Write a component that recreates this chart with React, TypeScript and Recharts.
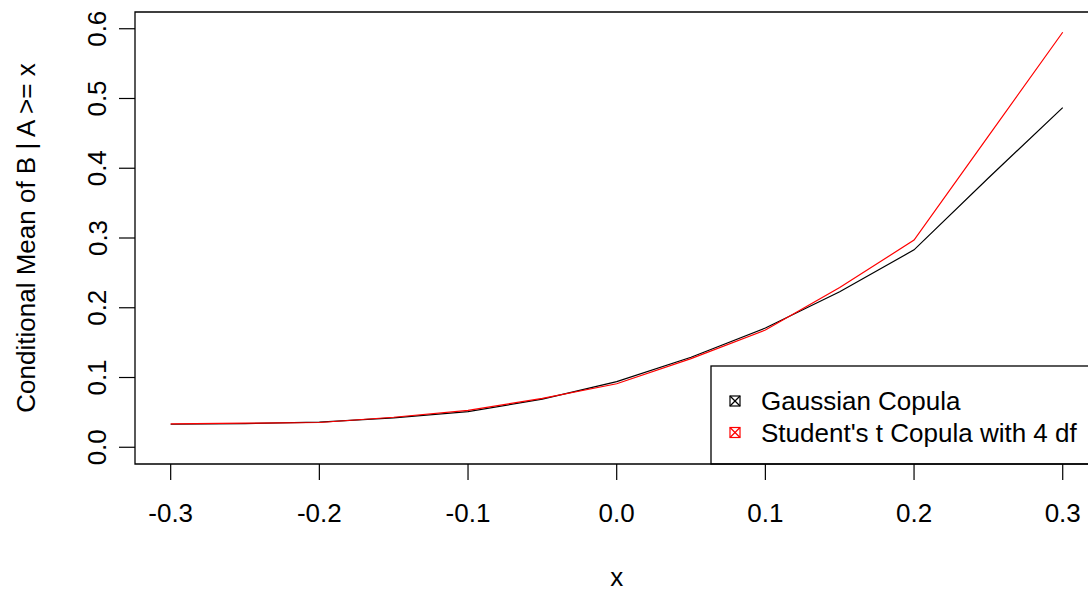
import React from 'react';
import { LineChart, Line, XAxis, YAxis, ReferenceArea, Customized } from 'recharts';

// Threshold x at which the conditional mean E[B | A >= x] is evaluated
const thresholds = [-0.3, -0.25, -0.2, -0.15, -0.1, -0.05, 0, 0.05, 0.1, 0.15, 0.2, 0.25, 0.3];
// Conditional mean under the Gaussian copula
const gaussianMean = [0.033, 0.034, 0.036, 0.042, 0.051, 0.069, 0.094, 0.129, 0.171, 0.223, 0.283, 0.386, 0.487];
// Conditional mean under the Student's t copula (4 degrees of freedom)
const studentMean = [0.0336, 0.0346, 0.0355, 0.043, 0.053, 0.070, 0.091, 0.127, 0.168, 0.229, 0.297, 0.446, 0.595];

const xTicks = [-0.3, -0.2, -0.1, 0, 0.1, 0.2, 0.3];
const yTicks = [0, 0.1, 0.2, 0.3, 0.4, 0.5, 0.6];
const legendLabels = ['Gaussian Copula', "Student's t Copula with 4 df"];
const seriesColors = ['#000000', '#ff0000'];

const xLabel = 'x';
const yLabel = 'Conditional Mean of B | A >= x';

const data = thresholds.map((x, i) => ({ x, gaussian: gaussianMean[i], student: studentMean[i] }));

// R pads the data range by 4% on each side
const xDomain: [number, number] = [-0.324, 0.324];
const yDomain: [number, number] = [-0.024, 0.624];

const FONT = '"Liberation Sans", Arial, Helvetica, sans-serif';
const FS = 26;

const XTick = (props: any) => {
  const { x, y, payload } = props;
  return (
    <text x={x} y={y + 40} textAnchor="middle" fontFamily={FONT} fontSize={FS} fill="#000">
      {Number(payload.value).toFixed(1)}
    </text>
  );
};

const YTick = (props: any) => {
  const { x, y, payload } = props;
  const bx = x - 10.5;
  return (
    <text
      x={bx}
      y={y}
      transform={`rotate(-90, ${bx}, ${y})`}
      textAnchor="middle"
      fontFamily={FONT}
      fontSize={FS}
      fill="#000"
    >
      {Number(payload.value).toFixed(1)}
    </text>
  );
};

const Decorations = () => {
  const boxLeft = 711;
  const boxTop = 366;
  const boxRight = 1098.4;
  const boxBottom = 464;
  const rows = [401, 432.5];
  return (
    <g>
      <text x={616.7} y={586} textAnchor="middle" fontFamily={FONT} fontSize={FS} fill="#000">
        {xLabel}
      </text>
      <text
        x={34.5}
        y={238}
        transform="rotate(-90, 34.5, 238)"
        textAnchor="middle"
        fontFamily={FONT}
        fontSize={FS}
        fill="#000"
      >
        {yLabel}
      </text>
      <rect
        x={boxLeft}
        y={boxTop}
        width={boxRight - boxLeft}
        height={boxBottom - boxTop}
        fill="#fff"
        stroke="#000"
        strokeWidth={1.3}
      />
      {legendLabels.map((label, i) => {
        const cy = rows[i];
        const cx = 735;
        const h = 5;
        return (
          <g key={label}>
            <rect x={cx - h} y={cy - h} width={2 * h} height={2 * h} fill="none" stroke={seriesColors[i]} strokeWidth={1.2} />
            <line x1={cx - h} y1={cy - h} x2={cx + h} y2={cy + h} stroke={seriesColors[i]} strokeWidth={1.2} />
            <line x1={cx - h} y1={cy + h} x2={cx + h} y2={cy - h} stroke={seriesColors[i]} strokeWidth={1.2} />
            <text x={761} y={cy + 9.3} fontFamily={FONT} fontSize={FS} fill="#000">
              {label}
            </text>
          </g>
        );
      })}
    </g>
  );
};

export default function App() {
  return (
    <div style={{ position: 'absolute', left: 0, top: 0, width: 1088, height: 592, overflow: 'hidden', background: '#fff' }}>
      <LineChart width={1100} height={592} data={data} margin={{ top: 12, right: 1.6, left: 0, bottom: 0 }}>
        <XAxis
          dataKey="x"
          type="number"
          domain={xDomain}
          ticks={xTicks}
          allowDataOverflow
          axisLine={false}
          tickLine={{ stroke: '#000', strokeWidth: 1.2 }}
          tickSize={16}
          tick={<XTick />}
          height={128}
          interval={0}
        />
        <YAxis
          type="number"
          domain={yDomain}
          ticks={yTicks}
          allowDataOverflow
          axisLine={false}
          tickLine={{ stroke: '#000', strokeWidth: 1.2 }}
          tickSize={16}
          tick={<YTick />}
          width={135}
          interval={0}
        />
        <ReferenceArea
          x1={xDomain[0]}
          x2={xDomain[1]}
          y1={yDomain[0]}
          y2={yDomain[1]}
          fill="none"
          stroke="#000"
          strokeWidth={1.3}
          ifOverflow="visible"
        />
        <Line
          type="linear"
          dataKey="gaussian"
          stroke={seriesColors[0]}
          strokeWidth={1.2}
          dot={false}
          isAnimationActive={false}
        />
        <Line
          type="linear"
          dataKey="student"
          stroke={seriesColors[1]}
          strokeWidth={1.2}
          dot={false}
          isAnimationActive={false}
        />
        <Customized component={Decorations} />
      </LineChart>
    </div>
  );
}
